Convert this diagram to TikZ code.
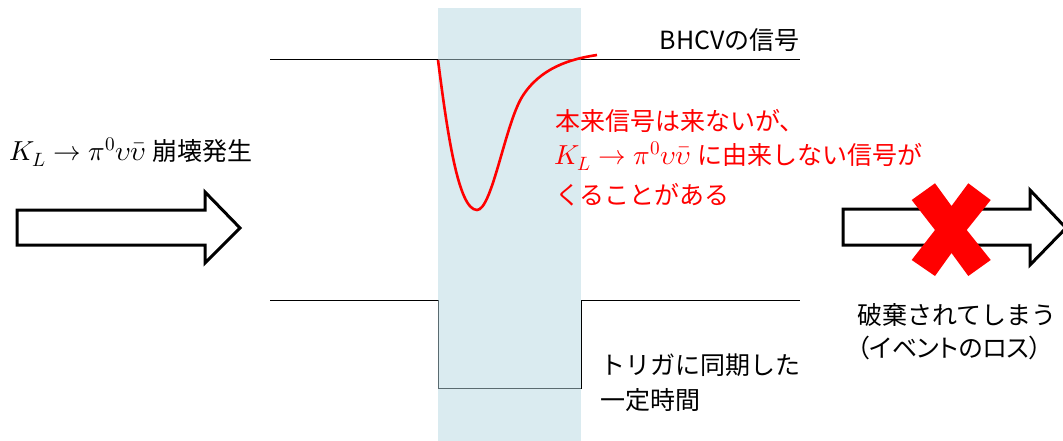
\documentclass[tikz,border=0pt]{standalone}
\usepackage{fontspec}
\setmainfont{Noto Sans CJK JP}
\newfontfamily\jpp[RawFeature=+palt]{Noto Sans CJK JP}
\usepackage{amsmath}
\usepackage{unicode-math}
\setmathfont{Latin Modern Math}
\definecolor{winblue}{HTML}{B5D7E1}
\definecolor{myred}{HTML}{FF0000}
\newcommand{\klpi}{{\fontsize{27.5}{30}\selectfont$K_L\rightarrow\pi^0\upsilon\bar{\upsilon}$}\hspace{7pt}}
\begin{document}
\begin{tikzpicture}[x=1pt,y=-1pt,
  lbl/.style={inner sep=0pt,font=\fontsize{25}{30}\selectfont},
  sig/.style={line width=1pt,black},
  bigarrow/.style={draw=black,line width=3pt,fill=white,line join=miter},
]
\useasboundingbox (0,0) rectangle (1063,441);
% signal lines
\coordinate (t0) at (270,60);
\coordinate (t1) at (800,60);
\draw[sig] (t0) -- (t1);
\coordinate (g0) at (270,300);
\coordinate (g1) at (438,300);
\coordinate (g2) at (438,388);
\coordinate (g3) at (581,388);
\coordinate (g4) at (581,300);
\coordinate (g5) at (800,300);
\draw[sig] (g0) -- (g1) -- (g2) -- (g3) -- (g4) -- (g5);
% window
\fill[winblue,fill opacity=0.5] (438,8) rectangle (581,441);
% red pulse
\coordinate (p0) at (438,60);
\coordinate (p1) at (477,210);
\coordinate (p2) at (522,97);
\coordinate (p3) at (597,55);
\draw[myred,line width=2.6pt] (p0) .. controls (447,130) and (458,210) .. (p1)
  .. controls (492,210) and (505,125) .. (p2)
  .. controls (540,68) and (570,59) .. (p3);
% arrows
\draw[bigarrow] (17,210) -- (205,210) -- (205,192) -- (240,228) -- (205,263) -- (205,245) -- (17,245) -- cycle;
\draw[bigarrow] (843,209) -- (1030,209) -- (1030,190) -- (1066,228) -- (1030,265) -- (1030,245) -- (843,245) -- cycle;
% red X
\fill[myred] (911.7,200) -- (935,183.3) -- (951.5,206) -- (968.3,183.3) -- (990.7,200)
  -- (966.7,230) -- (990.7,260) -- (968.3,276) -- (951.5,253) -- (935,276)
  -- (911.7,260) -- (935,230) -- cycle;
% texts
\node[lbl,anchor=west] (decay) at (9,152) {\klpi 崩壊発生};
\node[lbl,anchor=east] (bhcv) at (800,40) {BHCVの信号};
\node[lbl,anchor=west,text=myred] (r1) at (555,121) {本来信号は来ないが、};
\node[lbl,anchor=west,text=myred] (r2) at (554,156) {\klpi に由来しない信号が};
\node[lbl,anchor=west,text=myred] (r3) at (555,195) {くることがある};
\node[lbl,anchor=west] (lost1) at (857,315) {破棄されてしまう};
\node[lbl,anchor=west] (lost2) at (857,348) {\jpp （イベントのロス）};
\node[lbl,anchor=west] (trg1) at (600,365) {トリガに同期した};
\node[lbl,anchor=west] (trg2) at (600,400) {一定時間};
\end{tikzpicture}
\end{document}
